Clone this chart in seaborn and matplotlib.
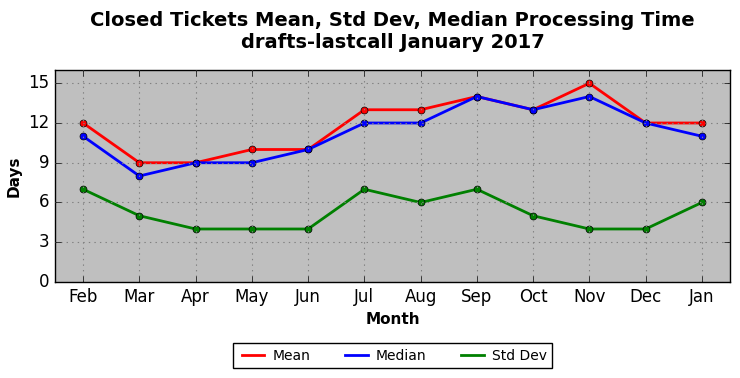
import pandas as pd
import matplotlib
matplotlib.use("Agg")
import matplotlib.pyplot as plt
import seaborn as sns

months = ["Feb", "Mar", "Apr", "May", "Jun", "Jul", "Aug", "Sep", "Oct", "Nov", "Dec", "Jan"]
mean_days = [12, 9, 9, 10, 10, 13, 13, 14, 13, 15, 12, 12]
median_days = [11, 8, 9, 9, 10, 12, 12, 14, 13, 14, 12, 11]
std_days = [7, 5, 4, 4, 4, 7, 6, 7, 5, 4, 4, 6]

plt.style.use("classic")
plt.rcParams["font.family"] = ["DejaVu Sans"]

df = pd.DataFrame({
    "Month": list(range(len(months))) * 3,
    "Days": mean_days + median_days + std_days,
    "Series": ["Mean"] * 12 + ["Median"] * 12 + ["Std Dev"] * 12,
})

fig = plt.figure(figsize=(7.4, 3.78), dpi=100)
ax = fig.add_axes([0.0743, 0.254, 0.9122, 0.5608])
ax.set_facecolor("#bfbfbf")

palette = {"Mean": "red", "Median": "blue", "Std Dev": "green"}
sns.lineplot(data=df, x="Month", y="Days", hue="Series", palette=palette,
             marker="o", markersize=5, markeredgecolor="black", markeredgewidth=0.5,
             linewidth=2, ax=ax, legend=False)

ax.set_xlim(-0.5, 11.5)
ax.set_ylim(0, 16)
ax.set_xticks(range(len(months)))
ax.set_xticklabels(months)
ax.set_yticks([0, 3, 6, 9, 12, 15])
ax.tick_params(labelsize=12)
ax.grid(True, color="gray", linestyle=":", linewidth=0.8)
ax.set_xlabel("Month", fontsize=11, fontweight="bold")
ax.set_ylabel("Days", fontsize=11, fontweight="bold")

ax.set_title("Closed Tickets Mean, Std Dev, Median Processing Time\ndrafts-lastcall January 2017",
             fontsize=14, fontweight="bold", pad=16)

handles = [plt.Line2D([], [], color=palette[s], linewidth=2) for s in ["Mean", "Median", "Std Dev"]]
ax.legend(handles, ["Mean", "Median", "Std Dev"], loc="upper center", ncol=3,
          bbox_to_anchor=(0.5, -0.255), fontsize=10, frameon=True, fancybox=False,
          handlelength=2.2, handletextpad=0.3, columnspacing=2.2)

fig.savefig("out.png", dpi=100)
